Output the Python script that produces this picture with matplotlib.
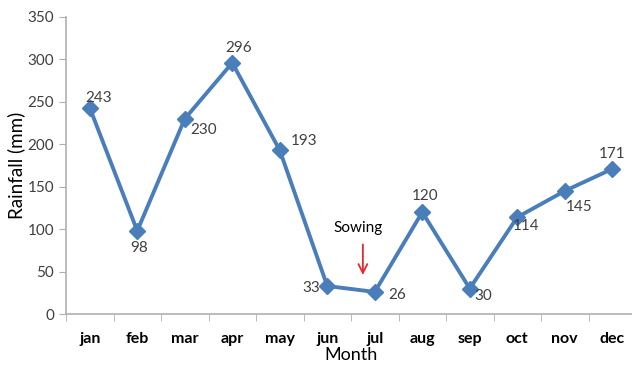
import matplotlib
matplotlib.use("Agg")
import matplotlib.pyplot as plt

# monthly rainfall
months = ["jan", "feb", "mar", "apr", "may", "jun",
          "jul", "aug", "sep", "oct", "nov", "dec"]
rainfall = [243, 98, 230, 296, 193, 33, 26, 120, 30, 114, 145, 171]

# where each value label sits relative to its point (pixels)
label_offsets = [(9, 10), (2, -17), (19, -11), (6, 15), (24, 9), (-16, -2),
                 (22, -3), (3, 16), (13, -7), (9, -9), (14, -16), (0, 15)]

plt.rcParams['font.family'] = ['Lato', 'DejaVu Sans']

fig = plt.figure(figsize=(6.32, 3.67), dpi=100)
ax = fig.add_axes([66 / 632, 53 / 367, 570 / 632, 297 / 367])

x = list(range(len(months)))
ax.plot(x, rainfall, color="#4a7ebb", linewidth=2.8, marker="D",
        markersize=8, markerfacecolor="#4a7ebb", markeredgecolor="#4a7ebb")

for xi, val, (dx, dy) in zip(x, rainfall, label_offsets):
    ax.annotate(str(val), (xi, val), xytext=(dx, dy), textcoords="offset pixels",
                ha="center", va="center", fontsize=11, color="#404040")

# sowing marker between jun and jul
ax.annotate("", xy=(5.75, 46), xytext=(5.75, 82),
            arrowprops=dict(arrowstyle="->", color="#e8262b", lw=1.3,
                            mutation_scale=16, shrinkA=0, shrinkB=0))
ax.text(5.65, 101, "Sowing", ha="center", va="center", fontsize=11,
        color="black")

ax.set_xlim(-0.5, 11.5)
ax.set_ylim(0, 350)
ax.set_yticks(range(0, 351, 50))
ax.set_xticks(x)
ax.set_xticklabels(months, fontsize=11.5, color="black", fontweight="bold")
ax.set_xticks([i - 0.5 for i in range(13)], minor=True)
ax.tick_params(axis="x", which="major", length=0, pad=13)
ax.tick_params(axis="x", which="minor", length=5, color="#b0b0b0")
ax.tick_params(axis="y", length=5, color="#b0b0b0", labelsize=11,
               labelcolor="#404040")

for side in ["top", "right"]:
    ax.spines[side].set_visible(False)
for side in ["left", "bottom"]:
    ax.spines[side].set_color("#b0b0b0")
    ax.spines[side].set_linewidth(1.2)

ax.set_ylabel("Rainfall (mm)", fontsize=13.5, labelpad=2)
ax.set_xlabel("Month", fontsize=13, labelpad=1)

fig.savefig("out.png", dpi=100)
